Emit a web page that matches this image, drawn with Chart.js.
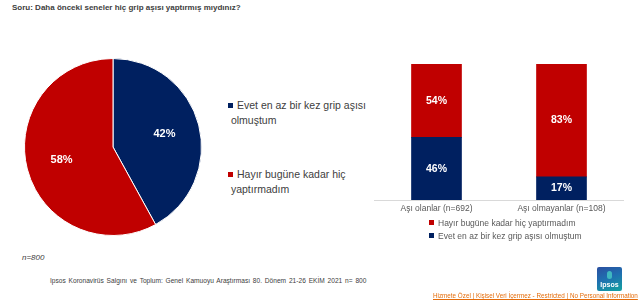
<!DOCTYPE html>
<html>
<head>
<meta charset="utf-8">
<script src="https://cdn.jsdelivr.net/npm/chart.js@4/dist/chart.umd.min.js"></script>
<style>
  html, body { margin: 0; padding: 0; background: #fff; }
  body { width: 640px; height: 308px; position: relative; overflow: hidden;
         font-family: "Liberation Sans", Arial, sans-serif; color: #404040; }
  .abs { position: absolute; }
  #title { left: 12px; top: 3px; font-size: 8px; font-weight: bold; color: #404040; }
  .pleg { left: 228px; font-size: 10.5px; line-height: 15px; color: #404040; }
  .pleg i, .bleg i { display: inline-block; width: 5px; height: 5px; margin-right: 4px; vertical-align: 1px; }
  .bleg { left: 429px; font-size: 8.5px; line-height: 13px; color: #595959; }
  #nnote { left: 22px; top: 253px; font-size: 8px; font-style: italic; color: #404040; }
  #footer { left: 50px; top: 277px; font-size: 6.6px; color: #404040; word-spacing: 1px; }
  #restr { left: 433px; top: 292px; font-size: 6.3px; color: #e46c0a; text-decoration: underline; white-space: nowrap; }
  #logo { left: 597px; top: 267px; width: 25px; height: 24px; border-radius: 2px;
          background: linear-gradient(160deg, #2b4fa0 0%, #1f6fb0 45%, #13a3a0 100%);
          color: #fff; font-size: 7px; font-weight: bold; text-align: center; line-height: 8px; }
  #logo span { position: absolute; left: 0; right: 0; bottom: 2px; }
  #logo b { position: absolute; left: 10px; top: 4px; width: 5px; height: 8px; border-radius: 3px; background: #3fb8c0; }
</style>
</head>
<body>
<div id="title" class="abs">Soru: Daha önceki seneler hiç grip aşısı yaptırmış mıydınız?</div>

<canvas id="pie" class="abs" width="178" height="178" style="left:24px;top:58px"></canvas>

<div class="abs pleg" style="top:98px"><i style="background:#002060"></i>Evet en az bir kez grip aşısı<br>&nbsp;olmuştum</div>
<div class="abs pleg" style="top:167px"><i style="background:#c00000"></i>Hayır bugüne kadar hiç<br>&nbsp;yaptırmadım</div>

<canvas id="bars" class="abs" width="250" height="170" style="left:374px;top:50px"></canvas>

<div class="abs bleg" style="top:217px"><i style="background:#c00000"></i>Hayır bugüne kadar hiç yaptırmadım</div>
<div class="abs bleg" style="top:230px"><i style="background:#002060"></i>Evet en az bir kez grip aşısı olmuştum</div>

<div id="nnote" class="abs">n=800</div>
<div id="footer" class="abs">Ipsos Koronavirüs  Salgını ve Toplum:  Genel Kamuoyu Araştırması 80. Dönem  21-26  EKİM  2021   n= 800</div>
<div id="logo" class="abs"><b></b><span>Ipsos</span></div>
<div id="restr" class="abs">Hizmete Özel | Kişisel Veri İçermez - Restricted | No Personal Information</div>

<script>
// pie data
const pieLabels = ["Evet en az bir kez grip aşısı olmuştum", "Hayır bugüne kadar hiç yaptırmadım"];
const pieValues = [42, 58];
const pieColors = ["#002060", "#c00000"];

// stacked bar data
const groups = ["Aşı olanlar (n=692)", "Aşı olmayanlar (n=108)"];
const evetValues = [46, 17];
const hayirValues = [54, 83];

const font = "'Liberation Sans', Arial, sans-serif";

// writes the percentage inside each slice / bar segment
const valueLabels = {
  id: "valueLabels",
  afterDatasetsDraw(chart) {
    const ctx = chart.ctx;
    ctx.save();
    ctx.fillStyle = "#fff";
    ctx.textAlign = "center";
    ctx.textBaseline = "middle";
    chart.data.datasets.forEach((ds, i) => {
      const meta = chart.getDatasetMeta(i);
      meta.data.forEach((el, j) => {
        let x, y;
        if (chart.config.type === "pie") {
          const p = el.getProps(["x", "y", "startAngle", "endAngle", "outerRadius"], true);
          const mid = (p.startAngle + p.endAngle) / 2;
          const r = p.outerRadius * 0.6;
          x = p.x + Math.cos(mid) * r;
          y = p.y + Math.sin(mid) * r;
          ctx.font = "bold 11px " + font;
        } else {
          const p = el.getProps(["x", "y", "base"], true);
          x = p.x;
          y = (p.y + p.base) / 2;
          ctx.font = "bold 10.5px " + font;
        }
        ctx.fillText(ds.data[j] + "%", x, y);
      });
    });
    ctx.restore();
  }
};

new Chart(document.getElementById("pie"), {
  type: "pie",
  data: {
    labels: pieLabels,
    datasets: [{
      data: pieValues,
      backgroundColor: pieColors,
      borderColor: "#fff",
      borderWidth: 1
    }]
  },
  options: {
    responsive: false,
    animation: false,
    plugins: { legend: { display: false }, tooltip: { enabled: false } }
  },
  plugins: [valueLabels]
});

new Chart(document.getElementById("bars"), {
  type: "bar",
  data: {
    labels: groups,
    datasets: [
      { label: "Evet en az bir kez grip aşısı olmuştum", data: evetValues, backgroundColor: "#002060", barThickness: 50 },
      { label: "Hayır bugüne kadar hiç yaptırmadım", data: hayirValues, backgroundColor: "#c00000", barThickness: 50 }
    ]
  },
  options: {
    responsive: false,
    animation: false,
    layout: { padding: { top: 14, left: 0, right: 0, bottom: 0 } },
    plugins: { legend: { display: false }, tooltip: { enabled: false } },
    scales: {
      x: {
        stacked: true,
        grid: { display: false, drawTicks: false, tickLength: 0 },
        border: { display: true, color: "#d9d9d9" },
        ticks: { color: "#595959", font: { family: font, size: 8.5 }, padding: 4 },
        afterFit(scale) { scale.height = 20; }
      },
      y: { stacked: true, min: 0, max: 100, display: false }
    }
  },
  plugins: [valueLabels]
});
</script>
</body>
</html>
